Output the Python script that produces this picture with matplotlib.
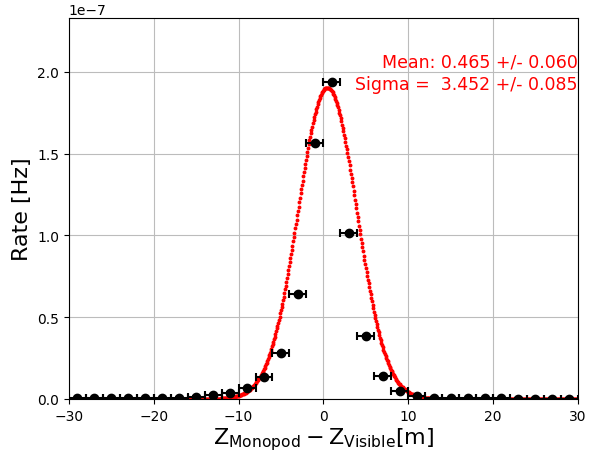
import numpy as np
import matplotlib
matplotlib.use("Agg")
import matplotlib.pyplot as plt

# bin centres [m] and measured rates [1e-7 Hz]
bin_centers = np.arange(-29, 30, 2)
rates = np.array([0.003, 0.003, 0.003, 0.003, 0.003, 0.004, 0.005, 0.012,
                  0.024, 0.037, 0.065, 0.133, 0.28, 0.642, 1.564, 1.941,
                  1.017, 0.387, 0.143, 0.051, 0.015, 0.006, 0.003, 0.003,
                  0.003, 0.003, 0.002, 0.002, 0.002, 0.002]) * 1e-7
rate_err = np.full(len(rates), 0.004e-7)
bin_half = np.ones(len(rates))

# gaussian fit result
fit_amp = 1.905e-7
fit_mean = 0.465
fit_mean_err = 0.060
fit_sigma = 3.452
fit_sigma_err = 0.085

fig = plt.figure(figsize=(5.89, 4.56), dpi=100)
ax = fig.add_axes([0.117, 0.123, 0.864, 0.835])

xf = np.linspace(-30, 30, 750)
yf = fit_amp * np.exp(-0.5 * ((xf - fit_mean) / fit_sigma) ** 2)
ax.plot(xf, yf, 'r.', markersize=3.6)

ax.errorbar(bin_centers, rates, xerr=bin_half, yerr=rate_err, fmt='o',
            color='black', markersize=6, capsize=3, elinewidth=1.5,
            capthick=1.5, zorder=3)

ax.set_xlim(-30, 30)
ax.set_ylim(0, rates.max() * 1.2)
ax.grid(True, color='#bcbcbc')
ax.set_axisbelow(True)

ax.set_xlabel(r'$\mathrm{Z_{Monopod}-Z_{Visible}}$[m]', fontsize=16, labelpad=2)
ax.set_ylabel('Rate [Hz]', fontsize=16)

ax.text(1.0, 0.885, 'Mean: %.3f +/- %.3f' % (fit_mean, fit_mean_err),
        transform=ax.transAxes, ha='right', va='center', color='red', fontsize=12.5)
ax.text(1.0, 0.828, 'Sigma =  %.3f +/- %.3f' % (fit_sigma, fit_sigma_err),
        transform=ax.transAxes, ha='right', va='center', color='red', fontsize=12.5)

plt.savefig('out.png', dpi=100)
